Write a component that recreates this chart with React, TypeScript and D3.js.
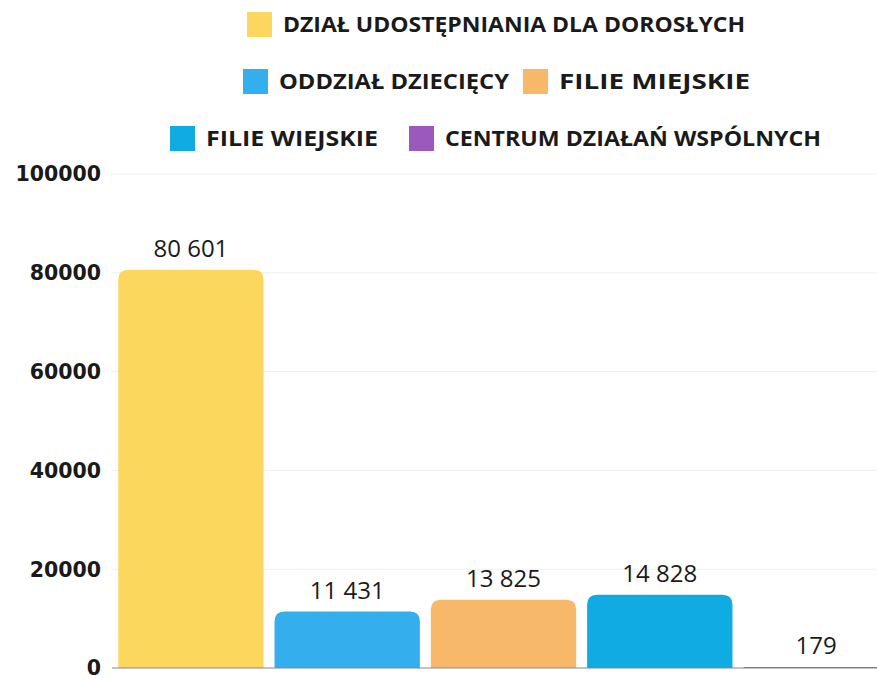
import React from "react";
import * as d3 from "d3";

const categories = [
  "DZIAŁ UDOSTĘPNIANIA DLA DOROSŁYCH",
  "ODDZIAŁ DZIECIĘCY",
  "FILIE MIEJSKIE",
  "FILIE WIEJSKIE",
  "CENTRUM DZIAŁAŃ WSPÓLNYCH",
];
const values = [80601, 11431, 13825, 14828, 179];
const valueLabels = ["80 601", "11 431", "13 825", "14 828", "179"];
const colors = ["#FCD75E", "#35AEEE", "#F8B86A", "#10ABE2", "#9B59C0"];
const yTicks = [0, 20000, 40000, 60000, 80000, 100000];

// legend layout (style)
const legendRows = [
  [{ i: 0, x: 247, w: 462 }],
  [{ i: 1, x: 243, w: 230 }, { i: 2, x: 523, w: 191 }],
  [{ i: 3, x: 170, w: 172 }, { i: 4, x: 409, w: 376 }],
];
const legendY = [24, 81, 138];

export default function App() {
  const W = 877, H = 679;
  const x = d3.scaleBand<number>().domain(d3.range(categories.length)).range([112, 895]).paddingInner(0.07).paddingOuter(0.04);
  const y = d3.scaleLinear().domain([0, 100000]).range([668, 174]);
  const r = 10;
  const barPath = (i: number) => {
    const x0 = x(i)!, w = x.bandwidth(), y0 = y(values[i]), y1 = y(0);
    const rr = Math.min(r, (y1 - y0));
    if (rr <= 0) return "";
    return `M${x0},${y1}V${y0 + rr}Q${x0},${y0} ${x0 + rr},${y0}H${x0 + w - rr}Q${x0 + w},${y0} ${x0 + w},${y0 + rr}V${y1}Z`;
  };
  return (
    <svg width={W} height={H} style={{ position: "absolute", left: 0, top: 0, background: "#fff" }}>
      <rect width={W} height={H} fill="#fff" />
      {legendRows.map((row, ri) =>
        row.map(({ i, x: lx, w }) => (
          <g key={i}>
            <rect x={lx} y={legendY[ri] - 12} width={25} height={25} fill={colors[i]} />
            <text x={lx + 36} y={legendY[ri]} dy="0.36em" fontFamily="'Open Sans', sans-serif" fontWeight={700} fontSize={21}
              textLength={w} lengthAdjust="spacingAndGlyphs" fill="#1a1a1a">
              {categories[i]}
            </text>
          </g>
        ))
      )}
      {yTicks.map((t) => (
        <g key={t}>
          {t > 0 && <line x1={112} x2={W} y1={y(t)} y2={y(t)} stroke="#efefef" strokeWidth={1} />}
          <text x={101} y={y(t)} dy="0.36em" textAnchor="end" fontFamily="'DejaVu Sans', sans-serif" fontWeight={700} fontSize={20.5} fill="#1a1a1a">
            {t}
          </text>
        </g>
      ))}
      {values.map((v, i) => (
        <g key={i}>
          <path d={barPath(i)} fill={colors[i]} />
          <text x={x(i)! + x.bandwidth() / 2} y={y(v) - 13} textAnchor="middle" fontFamily="'Open Sans', sans-serif" fontSize={24} fill="#1a1a1a">
            {valueLabels[i]}
          </text>
        </g>
      ))}
      <line x1={112} x2={W} y1={y(0)} y2={y(0)} stroke="#888" strokeWidth={1.2} />
    </svg>
  );
}
